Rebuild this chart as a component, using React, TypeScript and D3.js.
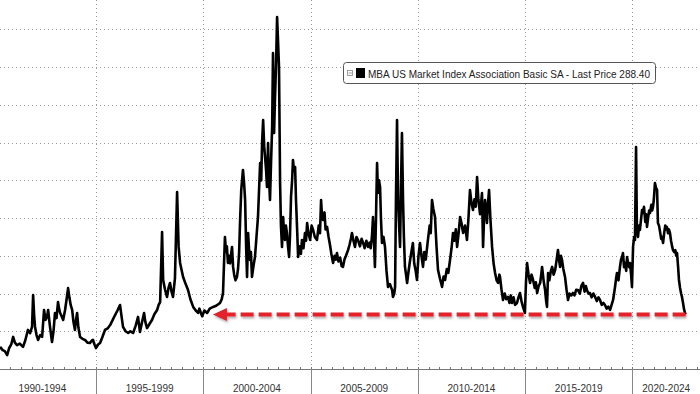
import { useRef, useEffect } from 'react';
import * as d3 from 'd3';

const W = 700;
const H = 394;

// weekly index: [decimal year, index level]
const P1990: [number, number][] = [
  [1990.53, 117], [1990.65, 100], [1990.75, 95], [1990.86, 74], [1990.95, 110], [1991.05, 130],
  [1991.14, 170], [1991.22, 140], [1991.32, 127], [1991.45, 135], [1991.6, 117], [1991.7, 150],
  [1991.83, 207], [1991.93, 190], [1992.02, 223], [1992.07, 392], [1992.12, 280], [1992.16, 223],
  [1992.23, 180], [1992.3, 154], [1992.4, 180], [1992.49, 170], [1992.58, 313], [1992.65, 260],
  [1992.72, 276], [1992.77, 313], [1992.85, 230], [1992.95, 143], [1993.02, 200], [1993.09, 297],
  [1993.16, 270], [1993.23, 355], [1993.28, 320], [1993.33, 297], [1993.4, 280], [1993.47, 260],
  [1993.56, 313], [1993.63, 370], [1993.7, 429], [1993.76, 380], [1993.82, 340], [1993.89, 313],
  [1993.95, 250], [1994.02, 207], [1994.07, 260], [1994.12, 297], [1994.18, 220], [1994.26, 170],
  [1994.37, 160], [1994.49, 154], [1994.6, 140], [1994.72, 138], [1994.8, 150], [1994.86, 154],
  [1994.93, 130],
];
const P1995: [number, number][] = [
  [1995.0, 111], [1995.1, 130], [1995.19, 138], [1995.3, 170], [1995.42, 207], [1995.54, 215],
  [1995.66, 233], [1995.78, 260], [1995.89, 286], [1996.0, 310], [1996.12, 339], [1996.19, 280],
  [1996.26, 223], [1996.38, 200], [1996.5, 191], [1996.6, 200], [1996.73, 191], [1996.85, 230],
  [1996.96, 276], [1997.05, 196], [1997.15, 250], [1997.24, 297], [1997.3, 250], [1997.38, 217],
  [1997.5, 240], [1997.61, 260], [1997.72, 290], [1997.85, 313], [1997.92, 340], [1997.99, 355],
  [1998.08, 726], [1998.13, 472], [1998.22, 420], [1998.31, 382], [1998.38, 430], [1998.45, 456],
  [1998.52, 410], [1998.59, 382], [1998.68, 480], [1998.78, 938], [1998.85, 650], [1998.92, 562],
  [1999.0, 520], [1999.06, 488], [1999.18, 450], [1999.29, 419], [1999.4, 370], [1999.53, 329],
  [1999.65, 310], [1999.76, 297], [1999.82, 320], [1999.88, 300], [1999.95, 280],
];
const P2000: [number, number][] = [
  [2000.05, 310], [2000.18, 297], [2000.3, 320], [2000.46, 329], [2000.6, 335], [2000.78, 350],
  [2000.86, 370], [2000.92, 403], [2001.01, 700], [2001.06, 620], [2001.1, 650], [2001.15, 562],
  [2001.2, 600], [2001.25, 560], [2001.3, 610], [2001.34, 647], [2001.39, 541], [2001.44, 500],
  [2001.5, 470], [2001.57, 488], [2001.62, 530], [2001.67, 615], [2001.72, 800], [2001.77, 950],
  [2001.81, 1002], [2001.85, 1055], [2001.9, 990], [2001.95, 896], [2002.0, 640], [2002.04, 488],
  [2002.09, 721], [2002.13, 640], [2002.18, 578], [2002.22, 620], [2002.27, 488], [2002.32, 530],
  [2002.36, 560], [2002.41, 594], [2002.48, 700], [2002.55, 806], [2002.6, 950], [2002.65, 1092],
  [2002.7, 1000], [2002.74, 1198], [2002.79, 1320], [2002.84, 1180], [2002.88, 1124], [2002.93, 1050],
  [2002.97, 965], [2003.02, 1198], [2003.06, 1020], [2003.11, 896], [2003.16, 1100], [2003.21, 1283],
  [2003.25, 1675], [2003.3, 1251], [2003.34, 1426], [2003.39, 1600], [2003.44, 1866], [2003.48, 1750],
  [2003.53, 1601], [2003.58, 986], [2003.62, 760], [2003.67, 647], [2003.72, 806], [2003.77, 720],
  [2003.81, 684], [2003.85, 760], [2003.9, 721], [2003.95, 650], [2004.0, 594], [2004.04, 700],
  [2004.09, 912], [2004.14, 1000], [2004.18, 1108], [2004.23, 1050], [2004.28, 1071], [2004.32, 900],
  [2004.37, 753], [2004.42, 594], [2004.5, 650], [2004.55, 610], [2004.6, 684], [2004.67, 640],
  [2004.74, 721], [2004.79, 680], [2004.84, 774], [2004.9, 720], [2004.98, 684],
];
const P2005: [number, number][] = [
  [2005.05, 760], [2005.12, 737], [2005.2, 700], [2005.3, 684], [2005.38, 760], [2005.44, 720],
  [2005.49, 896], [2005.53, 820], [2005.58, 790], [2005.65, 830], [2005.7, 740], [2005.77, 753],
  [2005.84, 700], [2005.91, 655], [2005.97, 610], [2006.05, 562], [2006.12, 600], [2006.18, 580],
  [2006.23, 615], [2006.3, 570], [2006.38, 590], [2006.45, 545], [2006.51, 541], [2006.58, 580],
  [2006.65, 600], [2006.75, 631], [2006.82, 660], [2006.88, 690], [2006.93, 721], [2007.0, 680],
  [2007.07, 647], [2007.14, 700], [2007.21, 684], [2007.3, 650], [2007.38, 690], [2007.45, 668],
  [2007.52, 640], [2007.6, 680], [2007.68, 647], [2007.75, 670], [2007.8, 640], [2007.86, 700],
  [2007.91, 806], [2007.95, 700], [2008.0, 541], [2008.05, 800], [2008.1, 1092], [2008.14, 933],
  [2008.19, 1000], [2008.24, 965], [2008.28, 800], [2008.33, 668], [2008.4, 700], [2008.47, 647],
  [2008.54, 520], [2008.61, 435], [2008.7, 450], [2008.8, 419], [2008.84, 382], [2008.9, 400],
  [2008.94, 435], [2008.98, 900], [2009.03, 1320], [2009.08, 896], [2009.12, 780], [2009.17, 647],
  [2009.22, 1000], [2009.26, 1251], [2009.31, 896], [2009.35, 700], [2009.4, 541], [2009.45, 500],
  [2009.5, 456], [2009.57, 520], [2009.64, 578], [2009.7, 620], [2009.77, 668], [2009.83, 560],
  [2009.9, 520], [2009.96, 472],
];
const P2010: [number, number][] = [
  [2010.03, 600], [2010.1, 668], [2010.17, 600], [2010.24, 541], [2010.3, 620], [2010.37, 580],
  [2010.47, 684], [2010.55, 760], [2010.6, 720], [2010.66, 896], [2010.72, 850], [2010.8, 806],
  [2010.87, 650], [2010.94, 525], [2011.03, 480], [2011.13, 435], [2011.2, 490], [2011.27, 472],
  [2011.35, 530], [2011.42, 510], [2011.5, 578], [2011.57, 640], [2011.64, 721], [2011.7, 680],
  [2011.77, 740], [2011.83, 647], [2011.9, 720], [2011.97, 806], [2012.04, 770], [2012.11, 721],
  [2012.2, 760], [2012.29, 684], [2012.36, 800], [2012.43, 949], [2012.5, 880], [2012.57, 843],
  [2012.64, 900], [2012.7, 860], [2012.76, 1018], [2012.82, 900], [2012.9, 820], [2012.95, 880],
  [2012.99, 933], [2013.04, 647], [2013.08, 780], [2013.13, 896], [2013.18, 840], [2013.22, 774],
  [2013.27, 880], [2013.32, 949], [2013.38, 800], [2013.46, 647], [2013.53, 560], [2013.6, 509],
  [2013.67, 470], [2013.74, 456], [2013.8, 500], [2013.83, 488], [2013.9, 420], [2013.97, 366],
  [2014.05, 400], [2014.12, 370], [2014.2, 382], [2014.27, 350], [2014.33, 390], [2014.39, 350],
  [2014.46, 380], [2014.53, 340], [2014.62, 350], [2014.69, 380], [2014.76, 403], [2014.83, 360],
  [2014.9, 329], [2014.99, 297],
];
const P2015: [number, number][] = [
  [2015.04, 460], [2015.09, 562], [2015.16, 500], [2015.23, 456], [2015.3, 500], [2015.37, 472],
  [2015.45, 430], [2015.5, 460], [2015.56, 403], [2015.63, 440], [2015.7, 456], [2015.75, 500],
  [2015.79, 541], [2015.86, 470], [2015.93, 419], [2015.98, 360], [2016.02, 329], [2016.07, 509],
  [2016.13, 470], [2016.2, 520], [2016.26, 541], [2016.33, 500], [2016.4, 525], [2016.47, 580],
  [2016.53, 631], [2016.58, 580], [2016.63, 541], [2016.67, 600], [2016.72, 578], [2016.78, 530],
  [2016.86, 488], [2016.93, 420], [2017.0, 366], [2017.07, 400], [2017.15, 390], [2017.23, 403],
  [2017.3, 390], [2017.38, 420], [2017.46, 419], [2017.55, 400], [2017.62, 440], [2017.7, 456],
  [2017.77, 410], [2017.83, 440], [2017.88, 419], [2017.95, 400], [2018.02, 403], [2018.1, 380],
  [2018.18, 400], [2018.26, 382], [2018.34, 360], [2018.42, 380], [2018.49, 366], [2018.57, 340],
  [2018.65, 350], [2018.72, 339], [2018.8, 320], [2018.88, 330], [2018.96, 313], [2019.03, 340],
  [2019.1, 366], [2019.19, 435], [2019.24, 480], [2019.28, 509], [2019.35, 470], [2019.42, 541],
  [2019.47, 580], [2019.52, 594], [2019.56, 615], [2019.61, 540], [2019.66, 562], [2019.71, 520],
  [2019.75, 594], [2019.8, 560], [2019.85, 540], [2019.89, 562], [2019.94, 500], [2019.98, 435],
];
const P2020: [number, number][] = [
  [2020.03, 647], [2020.08, 700], [2020.12, 684], [2020.17, 1177], [2020.21, 737], [2020.26, 700],
  [2020.31, 760], [2020.35, 737], [2020.4, 790], [2020.45, 843], [2020.49, 827], [2020.54, 860],
  [2020.6, 780], [2020.64, 820], [2020.68, 753], [2020.73, 800], [2020.78, 840], [2020.82, 827],
  [2020.88, 870], [2020.92, 840], [2020.96, 859], [2021.0, 900], [2021.05, 986], [2021.1, 960],
  [2021.15, 949], [2021.19, 774], [2021.24, 760], [2021.3, 720], [2021.34, 690], [2021.38, 700],
  [2021.43, 668], [2021.48, 720], [2021.53, 760], [2021.57, 740], [2021.61, 753], [2021.66, 720],
  [2021.7, 740], [2021.75, 721], [2021.8, 680], [2021.85, 650], [2021.89, 631], [2021.95, 620],
  [2022.0, 630], [2022.04, 600], [2022.08, 615], [2022.13, 540], [2022.17, 472], [2022.22, 430],
  [2022.27, 400], [2022.31, 382], [2022.36, 350], [2022.4, 320], [2022.45, 297], [2022.48, 288.4],
];

const PERIODS = ['1990-1994', '1995-1999', '2000-2004', '2005-2009', '2010-2014', '2015-2019', '2020-2024'];
const PERIOD_STARTS = [1990, 1995, 2000, 2005, 2010, 2015, 2020];
const GRID_VALUES = [200, 400, 600, 800, 1000, 1200, 1400, 1600, 1800];
const LAST_PRICE = 288.4;
const ARROW_TO = 2000.45;
const LEGEND_TEXT = 'MBA US Market Index Association Basic SA - Last Price 288.40';

export default function App() {
  const ref = useRef<SVGSVGElement>(null);

  useEffect(() => {
    const svg = d3.select(ref.current);
    svg.selectAll('*').remove();

    const series = [...P1990, ...P1995, ...P2000, ...P2005, ...P2010, ...P2015, ...P2020];
    const axisY = 369;
    const x = d3.scaleLinear().domain([1990, 2023.15]).range([-11.3, W]);
    const y = d3.scaleLinear().domain([0, 1956]).range([axisY, 0]);

    const defs = svg.append('defs');
    const f = defs.append('filter').attr('id', 'shadow').attr('x', '-5%').attr('y', '-100%')
      .attr('width', '110%').attr('height', '300%');
    f.append('feDropShadow').attr('dx', 1).attr('dy', 2).attr('stdDeviation', 1.2)
      .attr('flood-color', '#000').attr('flood-opacity', 0.3);

    // Gridlines
    svg.append('g').selectAll('line').data(GRID_VALUES).join('line')
      .attr('x1', 0).attr('x2', W)
      .attr('y1', d => Math.round(y(d)) + 0.5).attr('y2', d => Math.round(y(d)) + 0.5)
      .attr('stroke', '#9a9a9a').attr('stroke-dasharray', '1,3');
    svg.append('g').selectAll('line').data(PERIOD_STARTS.slice(1)).join('line')
      .attr('x1', d => Math.round(x(d)) + 0.5).attr('x2', d => Math.round(x(d)) + 0.5)
      .attr('y1', 0).attr('y2', axisY)
      .attr('stroke', '#9a9a9a').attr('stroke-dasharray', '1,3');

    // Series
    const line = d3.line<[number, number]>()
      .x(d => x(d[0]))
      .y(d => y(d[1]));
    svg.append('path').datum(series)
      .attr('d', line)
      .attr('fill', 'none').attr('stroke', '#000').attr('stroke-width', 2.6)
      .attr('stroke-linejoin', 'round');

    // Red dashed arrow at last price
    const ay = y(LAST_PRICE);
    const tip = x(ARROW_TO);
    const arrow = svg.append('g').attr('filter', 'url(#shadow)');
    arrow.append('line')
      .attr('x1', x(series[series.length - 1][0])).attr('x2', tip + 12)
      .attr('y1', ay).attr('y2', ay)
      .attr('stroke', '#e3202b').attr('stroke-width', 4)
      .attr('stroke-dasharray', '13,5');
    arrow.append('path')
      .attr('d', `M${tip},${ay} L${tip + 14},${ay - 6.5} L${tip + 14},${ay + 6.5} Z`)
      .attr('fill', '#e3202b');

    // Legend
    const lg = svg.append('g');
    lg.append('rect').attr('x', 343.5).attr('y', 62.5).attr('width', 312).attr('height', 21)
      .attr('rx', 3).attr('fill', '#fff').attr('stroke', '#555');
    lg.append('rect').attr('x', 347.5).attr('y', 70.5).attr('width', 5).attr('height', 5)
      .attr('fill', '#fff').attr('stroke', '#888').attr('stroke-width', 0.8);
    lg.append('line').attr('x1', 348.5).attr('x2', 352).attr('y1', 73).attr('y2', 73)
      .attr('stroke', '#888').attr('stroke-width', 0.8);
    lg.append('rect').attr('x', 356).attr('y', 68).attr('width', 9).attr('height', 10).attr('fill', '#000');
    lg.append('text').attr('x', 368).attr('y', 77.5)
      .attr('font-family', 'Liberation Sans, Arial, sans-serif').attr('font-size', 10.5)
      .attr('fill', '#222').attr('textLength', 282).attr('lengthAdjust', 'spacingAndGlyphs')
      .text(LEGEND_TEXT);

    // X axis
    const ax = svg.append('g');
    ax.append('line').attr('x1', 0).attr('x2', W).attr('y1', axisY + 0.5).attr('y2', axisY + 0.5)
      .attr('stroke', '#777');
    const minor = d3.range(1990.5, 2023.1, 0.5);
    ax.selectAll('line.mt').data(minor).join('line').attr('class', 'mt')
      .attr('x1', d => Math.round(x(d)) + 0.5).attr('x2', d => Math.round(x(d)) + 0.5)
      .attr('y1', axisY - 2).attr('y2', axisY + 1)
      .attr('stroke', '#777');
    ax.selectAll('line.sep').data(PERIOD_STARTS.slice(1)).join('line').attr('class', 'sep')
      .attr('x1', d => Math.round(x(d)) + 0.5).attr('x2', d => Math.round(x(d)) + 0.5)
      .attr('y1', axisY).attr('y2', H)
      .attr('stroke', '#888');
    const [d0, d1] = x.domain();
    ax.selectAll('text').data(PERIODS).join('text')
      .attr('x', (_, i) => {
        const a = Math.max(PERIOD_STARTS[i], d0);
        const b = Math.min(PERIOD_STARTS[i] + 5, d1);
        return (x(a) + x(b)) / 2;
      })
      .attr('y', 392)
      .attr('text-anchor', 'middle')
      .attr('font-family', 'Liberation Sans, Arial, sans-serif').attr('font-size', 10)
      .attr('fill', '#333')
      .text(d => d);
  }, []);

  return (
    <>
      <style>{'body{margin:0}'}</style>
      <svg ref={ref} width={W} height={H} style={{ display: 'block', background: '#fff' }} />
    </>
  );
}
